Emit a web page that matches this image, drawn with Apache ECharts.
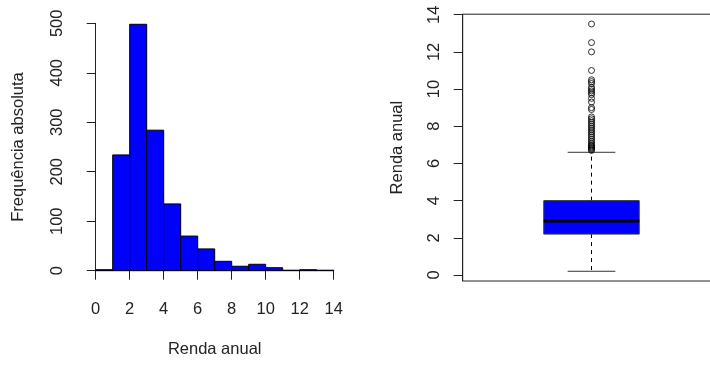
<!DOCTYPE html>
<html><head><meta charset="utf-8">
<script src="https://cdn.jsdelivr.net/npm/echarts@6/dist/echarts.min.js"></script>
<style>html,body{margin:0;padding:0;background:#fff;overflow:hidden}#c{width:710px;height:365px}</style>
</head><body><div id="c"></div>
<script>
// Histogram data
const binEdges = [0, 1, 2, 3, 4, 5, 6, 7, 8, 9, 10, 11, 12, 13, 14];
const counts = [2, 234, 498, 284, 135, 70, 44, 19, 9, 13, 6, 1, 2, 1];
const histXTicks = [0, 2, 4, 6, 8, 10, 12, 14];
const histYTicks = [0, 100, 200, 300, 400, 500];
// Boxplot data
const boxCategory = ['Renda anual'];
const boxStats = [0.2, 2.2, 2.9, 4.0, 6.6]; // lower whisker, Q1, median, Q3, upper whisker
const outliers = [13.5, 12.5, 12.0, 11.0, 10.5, 10.4, 10.3, 10.1, 10.0, 9.9, 9.8, 9.7, 9.5, 9.3,
  9.0, 8.9, 8.5, 8.4, 8.3, 8.2, 8.1, 8.0, 7.9, 7.8, 7.7, 7.6, 7.5, 7.4, 7.3, 7.2, 7.1, 7.0,
  6.95, 6.9, 6.85, 6.8, 6.75, 6.7];
const boxYTicks = [0, 2, 4, 6, 8, 10, 12, 14];

const FONT = '"Liberation Sans", Arial, sans-serif';
const INK = '#222';
const BLUE = '#0000ff';

const chart = echarts.init(document.getElementById('c'), null, {renderer: 'canvas'});

const histData = counts.map((c, i) => [binEdges[i], binEdges[i + 1], c]);

const axisText = {color: INK, fontSize: 16.5, fontFamily: FONT};

chart.setOption({
  animation: false,
  backgroundColor: '#fff',
  grid: [
    {left: 95.7, top: 23.3, width: 238, height: 247.4, outerBoundsMode: 'none', containLabel: false},
    {left: 462.7, top: 14.2, width: 257.6, height: 266.8, outerBoundsMode: 'none', containLabel: false,
      show: true, borderColor: INK, borderWidth: 1, backgroundColor: 'transparent'}
  ],
  xAxis: [
    {
      gridIndex: 0, type: 'value',
      min: histXTicks[0], max: histXTicks[histXTicks.length - 1], interval: 2,
      offset: 10.3,
      axisLine: {show: true, lineStyle: {color: INK, width: 1}},
      axisTick: {show: true, length: 9, lineStyle: {color: INK}},
      axisLabel: Object.assign({margin: 20}, axisText),
      splitLine: {show: false},
      name: 'Renda anual', nameLocation: 'middle', nameGap: 60,
      nameTextStyle: axisText
    },
    {
      gridIndex: 1, type: 'category', data: boxCategory,
      axisLine: {show: false}, axisTick: {show: false}, axisLabel: {show: false},
      splitLine: {show: false}
    }
  ],
  yAxis: [
    {
      gridIndex: 0, type: 'value',
      min: histYTicks[0], max: histYTicks[histYTicks.length - 1], interval: 100,
      offset: 9.7,
      axisLine: {show: true, lineStyle: {color: INK, width: 1}},
      axisTick: {show: true, length: 9, lineStyle: {color: INK}},
      axisLabel: Object.assign({margin: 20, rotate: 90}, axisText),
      splitLine: {show: false},
      name: 'Frequência absoluta', nameLocation: 'middle', nameGap: 59, nameRotate: 90,
      nameTextStyle: axisText
    },
    {
      gridIndex: 1, type: 'value',
      min: -0.323, max: 14.027,
      axisLine: {show: true, lineStyle: {color: INK, width: 1}},
      axisTick: {show: true, length: 9, lineStyle: {color: INK}, customValues: boxYTicks},
      axisLabel: Object.assign({margin: 20, rotate: 90, customValues: boxYTicks}, axisText),
      splitLine: {show: false},
      name: 'Renda anual', nameLocation: 'middle', nameGap: 57, nameRotate: 90,
      nameTextStyle: axisText
    }
  ],
  series: [
    {
      type: 'custom', xAxisIndex: 0, yAxisIndex: 0,
      data: histData,
      encode: {x: [0, 1], y: 2},
      renderItem: function (params, api) {
        const p0 = api.coord([api.value(0), api.value(2)]);
        const p1 = api.coord([api.value(1), 0]);
        return {
          type: 'rect',
          shape: {x: p0[0], y: p0[1], width: p1[0] - p0[0], height: p1[1] - p0[1]},
          style: {fill: BLUE, stroke: '#000', lineWidth: 1}
        };
      }
    },
    {
      type: 'custom', xAxisIndex: 1, yAxisIndex: 1,
      data: [[boxCategory[0]].concat(boxStats)],
      encode: {x: 0, y: [1, 2, 3, 4, 5]},
      renderItem: function (params, api) {
        const cat = api.value(0);
        const cx = api.coord([cat, 0])[0];
        const band = api.size([1, 0])[0];
        const half = band * 0.4 / 1.08 / 2;
        const capHalf = half / 2;
        const y = v => api.coord([cat, v])[1];
        const lo = y(api.value(1)), q1 = y(api.value(2)), med = y(api.value(3)),
              q3 = y(api.value(4)), hi = y(api.value(5));
        const dash = {stroke: '#000', lineWidth: 1, lineDash: [4, 4]};
        const solid = {stroke: '#333', lineWidth: 1};
        return {
          type: 'group',
          children: [
            {type: 'line', shape: {x1: cx, y1: q3, x2: cx, y2: hi}, style: dash},
            {type: 'line', shape: {x1: cx, y1: q1, x2: cx, y2: lo}, style: dash},
            {type: 'line', shape: {x1: cx - capHalf, y1: hi, x2: cx + capHalf, y2: hi}, style: solid},
            {type: 'line', shape: {x1: cx - capHalf, y1: lo, x2: cx + capHalf, y2: lo}, style: solid},
            {type: 'rect', shape: {x: cx - half, y: q3, width: 2 * half, height: q1 - q3},
              style: {fill: BLUE, stroke: '#333', lineWidth: 1}},
            {type: 'line', shape: {x1: cx - half, y1: med, x2: cx + half, y2: med},
              style: {stroke: '#000', lineWidth: 3}}
          ]
        };
      }
    },
    {
      type: 'scatter', xAxisIndex: 1, yAxisIndex: 1,
      data: outliers.map(v => [boxCategory[0], v]),
      symbol: 'circle', symbolSize: 6,
      itemStyle: {color: 'rgba(0,0,0,0)', borderColor: '#000', borderWidth: 1},
      z: 5
    }
  ]
});
</script>
</body></html>
